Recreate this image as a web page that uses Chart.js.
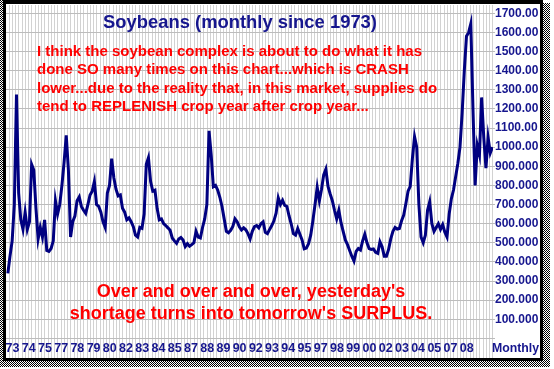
<!DOCTYPE html>
<html>
<head>
<meta charset="utf-8">
<script src="https://cdn.jsdelivr.net/npm/chart.js@4.4.1/dist/chart.umd.min.js"></script>
<style>
  html, body { margin: 0; padding: 0; background: #fff; }
  #wrap { width: 554px; height: 369px; }
</style>
</head>
<body>
<div id="wrap"><canvas id="soyChart" width="554" height="369"></canvas></div>
<script>
// Soybeans, monthly since 1973, one every 2 months
const firstPoint = 1972 + 10 / 12; // Nov 1972
const stepYears = 2 / 12;

const prices = [
    340,                               // 1972
    430, 510, 700, 1275, 760, 620,     // 1973
    570, 660, 570, 610, 910, 880,      // 1974
    680, 520, 580, 530, 620, 460,      // 1975
    455, 470, 510, 720, 650, 700,      // 1976
    800, 920, 1062, 880, 530, 610,     // 1977
    640, 720, 740, 690, 670, 654,      // 1978
    700, 750, 770, 820, 700, 690,      // 1979
    660, 610, 580, 760, 800, 940,      // 1980
    840, 780, 745, 750, 680, 660,      // 1981
    620, 630, 610, 584, 540, 530,      // 1982
    580, 575, 650, 910, 945, 820,      // 1983
    770, 775, 680, 620, 625, 600,      // 1984
    590, 578, 565, 525, 510, 497,      // 1985
    520, 528, 515, 480, 495, 482,      // 1986
    490, 500, 560, 530, 525, 580,      // 1987
    625, 700, 1085, 960, 793, 800,     // 1988
    776, 738, 690, 625, 560, 552,      // 1989
    565, 585, 625, 610, 584, 567,      // 1990
    578, 568, 548, 520, 560, 585,      // 1991
    590, 578, 600, 610, 555, 548,      // 1992
    570, 590, 615, 655, 735, 700,      // 1993
    722, 695, 690, 640, 598, 548,      // 1994
    540, 575, 545, 515, 468, 472,      // 1995
    495, 540, 615, 700, 790, 720,      // 1996
    780, 855, 885, 795, 755, 720,      // 1997
    670, 625, 670, 605, 560, 515,      // 1998
    490, 460, 430, 405, 455, 470,      // 1999
    462, 510, 545, 500, 470, 465,      // 2000
    468, 450, 445, 505, 479, 430,      // 2001
    430, 465, 520, 560, 580, 572,      // 2002
    575, 615, 645, 705, 770, 795,      // 2003
    940, 1055, 1000, 700, 530, 500,    // 2004
    540, 670, 715, 600, 560, 580,      // 2005
    600, 570, 595, 555, 530, 650,      // 2006
    730, 776, 845, 915, 1000, 1180,    // 2007
    1400, 1580, 1600, 1645, 1200, 800, // 2008
    1010, 960, 1260, 1050, 890, 1050,  // 2009
    970, 1000                          // 2010
];

// x axis labels (the chart skips one year out of five)
const yearLabels = ['73', '74', '75', '77', '78', '79', '80', '82', '83', '84', '85', '87', '88', '89', '90',
    '92', '93', '94', '95', '97', '98', '99', '00', '02', '03', '04', '05', '07', '08'];

// y axis labels, 100 .. 1700 (truncated the same way as the original)
const yTickValues = [100, 200, 300, 400, 500, 600, 700, 800, 900, 1000, 1100, 1200, 1300, 1400, 1500, 1600, 1700];
const yTickLabels = ['100.000', '200.000', '300.000', '400.000', '500.000', '600.000', '700.000', '800.000', '900.000',
    '1000.00', '1100.00', '1200.00', '1300.00', '1400.00', '1500.00', '1600.00', '1700.00'];

const chartTitle = 'Soybeans (monthly since 1973)';
const noteLines = [
    'I think the soybean complex is about to do what it has',
    'done SO many times on this chart...which is CRASH',
    'lower...due to the reality that, in this market, supplies do',
    'tend to REPLENISH crop year after crop year...'
];
const punchLines = [
    "Over and over and over, yesterday's",
    "shortage turns into tomorrow's SURPLUS."
];
const axisNote = 'Monthly';

// layout
const firstLabelPos = 1973.19;
const labelStep = 1.25;
const gridStep = 0.25;
const xMin = 1972.692, xMax = 2010.21;
const yMin = -8.4, yMax = 1743.4;

const BLUE = '#16168e';
const RED = '#ff0000';
const FONT = '"Liberation Sans", Arial, sans-serif';

const framePlugin = {
    id: 'frameAndNotes',
    beforeDraw(chart) {
        const ctx = chart.ctx;
        ctx.save();
        ctx.fillStyle = '#fff';
        ctx.fillRect(0, 0, chart.width, chart.height);
        ctx.restore();
    },
    afterDraw(chart) {
        const ctx = chart.ctx;
        ctx.save();
        ctx.textBaseline = 'middle';

        ctx.fillStyle = BLUE;
        ctx.textAlign = 'center';
        ctx.font = 'bold 18.4px ' + FONT;
        ctx.fillText(chartTitle, 240, 23);

        ctx.fillStyle = RED;
        ctx.textAlign = 'left';
        ctx.font = 'bold 15px ' + FONT;
        noteLines.forEach((s, i) => ctx.fillText(s, 37, 52 + i * 18.3));

        ctx.textAlign = 'center';
        ctx.font = 'bold 18px ' + FONT;
        punchLines.forEach((s, i) => ctx.fillText(s, 251, 292 + i * 22));

        ctx.fillStyle = BLUE;
        ctx.textAlign = 'left';
        ctx.font = 'bold 12.3px ' + FONT;
        ctx.fillText(axisNote, 492, 349);

        // black frame
        ctx.fillStyle = '#000';
        ctx.fillRect(3, 0, 539, 4);
        ctx.fillRect(3, 0, 3, 361);
        ctx.fillRect(540, 0, 3, 361);
        ctx.fillRect(3, 358, 540, 3);

        // checkered shadow
        for (let y = 0; y < 367; y++) {
            for (let x = 0; x < 550; x++) {
                const inLeft = x < 3;
                const inRight = x >= 543 && y >= 3;
                const inBottom = y >= 361;
                if ((inLeft || inRight || inBottom) && (x + y) % 2 === 0) {
                    ctx.fillRect(x, y, 1, 1);
                }
            }
        }
        ctx.restore();
    }
};

const ctx = document.getElementById('soyChart').getContext('2d');
new Chart(ctx, {
    type: 'line',
    data: {
        datasets: [{
            label: 'Soybeans',
            data: prices.map((v, i) => ({ x: firstPoint + i * stepYears, y: v })),
            borderColor: '#000080',
            borderWidth: 3,
            pointRadius: 0,
            tension: 0,
            fill: false
        }]
    },
    options: {
        responsive: false,
        animation: false,
        events: [],
        layout: { padding: { left: 6, top: 5, right: 0, bottom: 0 } },
        plugins: {
            legend: { display: false },
            tooltip: { enabled: false }
        },
        scales: {
            x: {
                type: 'linear',
                min: xMin,
                max: xMax,
                afterBuildTicks: (scale) => {
                    const ticks = [];
                    for (let v = firstLabelPos - gridStep; v <= xMax; v += gridStep) {
                        ticks.push({ value: v });
                    }
                    scale.ticks = ticks;
                },
                afterFit: (scale) => {
                    scale.height = 29;
                    scale.paddingLeft = 0;
                    scale.paddingRight = 0;
                },
                grid: { color: '#d2d2d2', drawTicks: true, tickLength: 18 },
                border: { display: false },
                ticks: {
                    autoSkip: false,
                    maxRotation: 0,
                    minRotation: 0,
                    padding: -17.4,
                    color: BLUE,
                    font: { family: FONT, size: 12.5, weight: 'bold' },
                    callback: (value) => {
                        const j = Math.round((value - firstLabelPos) / gridStep);
                        const per = Math.round(labelStep / gridStep);
                        if (j < 0 || j % per !== 0) return '';
                        return yearLabels[j / per] || '';
                    }
                }
            },
            y: {
                position: 'right',
                min: yMin,
                max: yMax,
                afterBuildTicks: (scale) => {
                    scale.ticks = [0].concat(yTickValues).map(v => ({ value: v }));
                },
                afterFit: (scale) => {
                    scale.width = 61;
                    scale.paddingTop = 0;
                    scale.paddingBottom = 0;
                },
                grid: { color: '#bcbcbc', tickLength: 2 },
                border: { display: false },
                ticks: {
                    padding: 0,
                    color: BLUE,
                    font: { family: FONT, size: 12, weight: 'bold' },
                    callback: (value) => {
                        const i = yTickValues.indexOf(value);
                        return i >= 0 ? yTickLabels[i] : '';
                    }
                }
            }
        }
    },
    plugins: [framePlugin]
});
</script>
</body>
</html>
